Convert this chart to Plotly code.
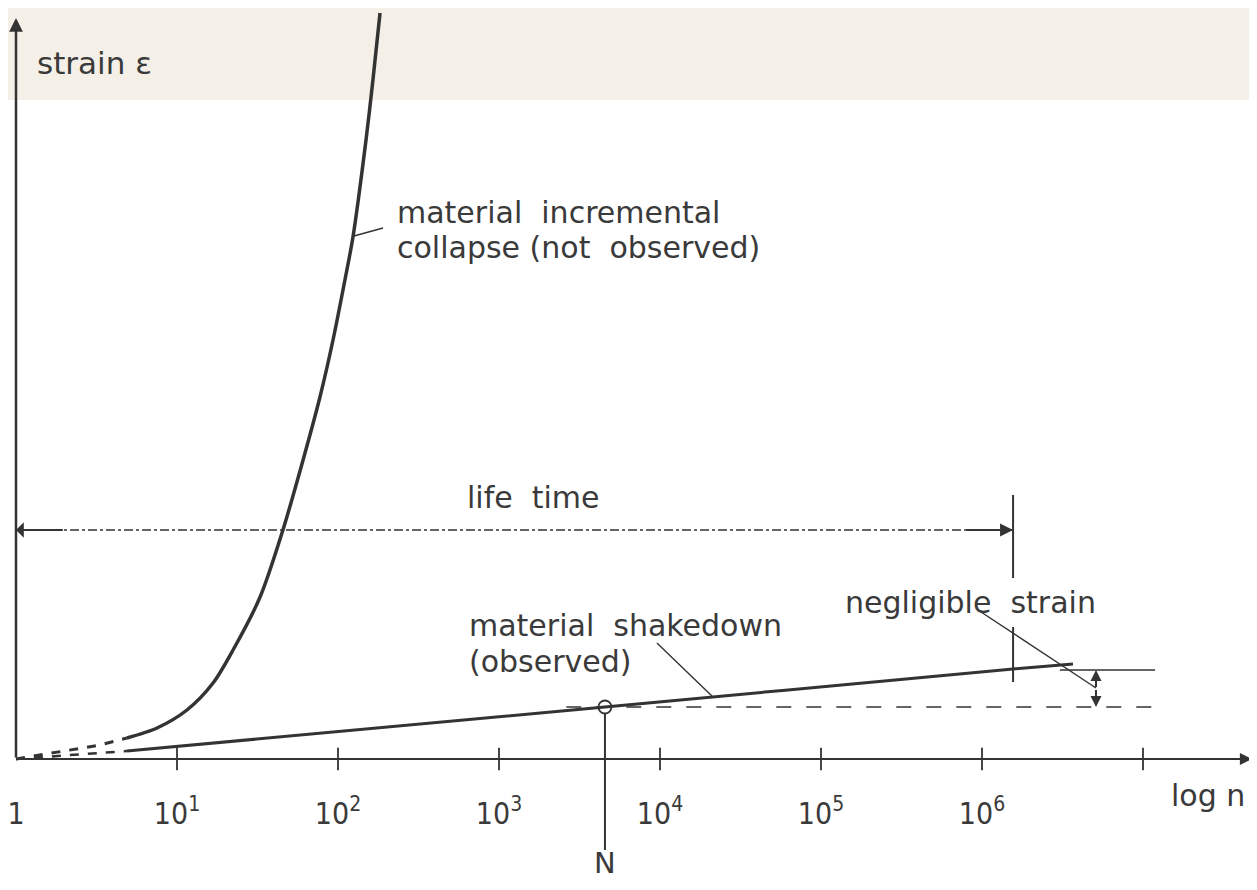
import plotly.graph_objects as go

# ---------------- data (x in log10 n, y in arbitrary strain units) ----------------
tick_logn = [0, 1, 2, 3, 4, 5, 6, 7]
tick_text = ["1", "10<sup>1</sup>", "10<sup>2</sup>", "10<sup>3</sup>",
             "10<sup>4</sup>", "10<sup>5</sup>", "10<sup>6</sup>"]

collapse_logn = [0.0, 0.273, 0.522, 0.689, 0.876, 1.062, 1.224, 1.348, 1.516, 1.658,
                 1.783, 1.888, 1.969, 2.043, 2.093, 2.174, 2.217, 2.261]
collapse_strain = [0.0, 0.07, 0.14, 0.21, 0.31, 0.49, 0.76, 1.09, 1.62, 2.29,
                   2.99, 3.62, 4.19, 4.79, 5.22, 6.19, 6.79, 7.46]

shakedown_logn = [0.0, 0.35, 0.689, 3.658, 6.193, 6.565]
shakedown_strain = [0.0, 0.04, 0.08, 0.52, 0.90, 0.95]

N_logn = 3.658          # cycles at the circle N
N_strain = 0.52
lifetime_logn = 6.193   # end of life time
lifetime_strain = 2.29
negl_upper = 0.89
negl_lower = 0.52

INK = "#333333"
TXT = "#3a3a3a"
FONT = "DejaVu Sans"
TICKFONT = "DejaVu Sans Condensed, Liberation Sans Narrow, DejaVu Sans"

fig = go.Figure()

def line(x, y, width=2, dash="solid", shape="linear", smoothing=1.0):
    fig.add_trace(go.Scatter(x=x, y=y, mode="lines", hoverinfo="skip",
                             line=dict(color=INK, width=width, dash=dash, shape=shape,
                                       smoothing=smoothing)))

# dashed beginnings
line(collapse_logn[:4], collapse_strain[:4], width=3, dash="dash")
line(shakedown_logn[:3], shakedown_strain[:3], width=2.5, dash="dash")
# solid curves
line(collapse_logn[3:], collapse_strain[3:], width=3.5, shape="spline", smoothing=0.8)
line(shakedown_logn[2:], shakedown_strain[2:], width=3, shape="spline", smoothing=0.8)

# life time dash-dot line
line([0, lifetime_logn], [lifetime_strain, lifetime_strain], width=1.3, dash="dashdot")

# lower reference (dashed) and upper reference (solid) lines
line([N_logn - 0.24, 7.075], [negl_lower, negl_lower], width=1.5, dash="longdash")
line([6.484, 7.075], [negl_upper, negl_upper], width=1.5)

# vertical line at end of life time (two segments)
line([lifetime_logn, lifetime_logn, None, lifetime_logn, lifetime_logn],
     [2.64, 1.81, None, 1.32, 0.77], width=2)

# vertical line at N
line([N_logn, N_logn], [N_strain - 0.06, -0.91], width=2)

# leader lines
line([2.099, 2.280, None, 3.981, 4.329, None, 5.994, 6.708],
     [5.23, 5.31, None, 1.16, 0.62, None, 1.47, 0.71], width=1.4)

# x axis line (solid) and tick marks
line([0, 7.55], [0, 0], width=2)
fig.add_trace(go.Scatter(x=tick_logn[1:], y=[0] * 7, mode="markers", hoverinfo="skip",
                         marker=dict(symbol="line-ns", size=16, line=dict(color=INK, width=1.8))))

# circle at N
fig.add_trace(go.Scatter(x=[N_logn], y=[N_strain], mode="markers", hoverinfo="skip",
                         marker=dict(symbol="circle-open", size=13, color=INK, line=dict(width=1.8))))

ann = []
def arrow(x, y, ax, ay, head=2, size=1.2, width=2):
    ann.append(dict(x=x, y=y, ax=ax, ay=ay, xref="x", yref="y", axref="x", ayref="y",
                    showarrow=True, arrowhead=head, arrowsize=size, arrowwidth=width,
                    arrowcolor=INK, text=""))

# axes arrows
arrow(0, 7.41, 0, 0, head=2, size=1.1, width=2.5)
arrow(7.677, 0, 7.3, 0, head=2, size=1.1, width=2.2)
# life time arrowheads
arrow(lifetime_logn, lifetime_strain, lifetime_logn - 0.3, lifetime_strain, head=2, size=1.3, width=2)
arrow(0.0, lifetime_strain, 0.3, lifetime_strain, head=1, size=1.3, width=2)
# negligible strain double arrow
mid = (negl_upper + negl_lower) / 2
arrow(6.708, negl_upper, 6.708, mid, head=2, size=1.1, width=2)
arrow(6.708, negl_lower, 6.708, mid, head=2, size=1.1, width=2)

def label(x, y, text, anchor="left", size=30):
    ann.append(dict(x=x, y=y, xref="x", yref="y", text=text, showarrow=False,
                    xanchor=anchor, yanchor="middle", font=dict(family=FONT, size=size, color=TXT)))

label(0.118, 6.96, "strain ε", size=31)
label(2.354, 5.47, "material  incremental")
label(2.354, 5.12, "collapse (not  observed)")
label(3.217, 2.62, "life  time", anchor="center")
label(2.801, 1.34, "material  shakedown")
label(2.801, 0.98, "(observed)")
label(5.137, 1.57, "negligible  strain")
label(7.404, -0.36, "log n", anchor="center")
label(N_logn, -1.04, "N", anchor="center", size=29)

fig.update_layout(
    width=1241, height=874,
    margin=dict(l=0, r=0, t=0, b=0),
    paper_bgcolor="white", plot_bgcolor="rgba(0,0,0,0)",
    showlegend=False,
    annotations=ann,
    shapes=[dict(type="rect", xref="paper", yref="paper", x0=0, x1=1, y0=1 - 92 / 874, y1=1,
                 fillcolor="#f5f0e7", line=dict(width=0), layer="below")],
    xaxis=dict(range=[-8 / 161, 1233 / 161], tickmode="array", tickvals=tick_logn[:7],
               ticktext=tick_text, showgrid=False, zeroline=False, showline=False, ticks="",
               anchor="free", position=(874 - 785) / 874, ticklabeloverflow="allow",
               tickfont=dict(family=TICKFONT, size=30, color=TXT), fixedrange=True),
    yaxis=dict(range=[-1.23, 7.51], showgrid=False, zeroline=False,
               showline=False, showticklabels=False, ticks="", fixedrange=True),
)

fig.write_html("out.html")
